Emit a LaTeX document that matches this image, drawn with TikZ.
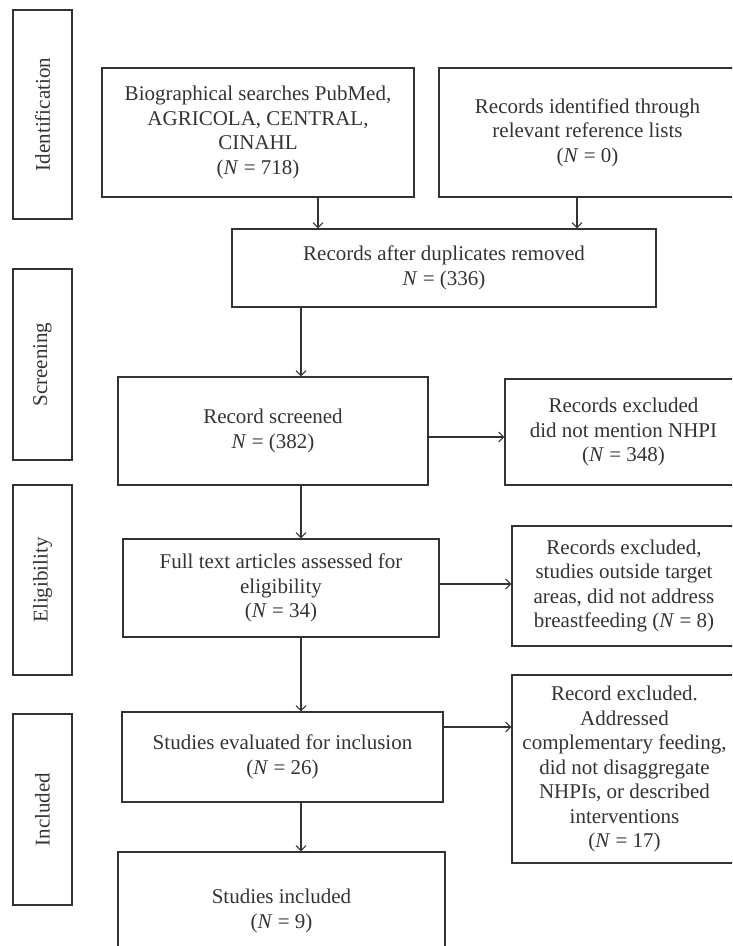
\documentclass[tikz,border=0pt]{standalone}
\usepackage{fontspec}
\setmainfont{Liberation Serif}
\usetikzlibrary{arrows.meta}

\begin{document}
\begin{tikzpicture}[x=1pt,y=-1pt,
    >={Straight Barb[length=5pt,width=10pt]},
    every node/.style={text=black!80,font=\fontsize{21}{24.5}\selectfont,align=center,inner sep=0pt},
    box/.style={draw=black!80,line width=1.1pt},
    stage/.style={draw=black!80,line width=1.1pt,rotate=90,minimum height=59pt}]
  \useasboundingbox (0,0) rectangle (732,946);
  \clip (0,0) rectangle (732,946);

  % stages on the left
  \node[stage,minimum width=209pt] (ident) at (42.5,114.5) {Identification};
  \node[stage,minimum width=191pt] (screen) at (42.5,364.5) {Screening};
  \node[stage,minimum width=190pt] (elig) at (42.5,580) {Eligibility};
  \node[stage,minimum width=191pt] (incl) at (42.5,809.5) {Included};

  % main column
  \node[box,minimum width=312pt,minimum height=129pt] (search) at (258,132.5)
    {Biographical searches PubMed,\\ AGRICOLA, CENTRAL,\\ CINAHL\\ (\textit{N} = 718)};
  \node[box,minimum width=297pt,minimum height=129pt] (refs) at (587.5,132.5)
    {Records identified through\\ relevant reference lists\\ (\textit{N} = 0)};
  \node[box,minimum width=424pt,minimum height=78pt] (dup) at (444,268)
    {Records after duplicates removed\\ \textit{N} = (336)};
  \node[box,minimum width=310pt,minimum height=108pt] (screened) at (273,431)
    {Record screened\\ \textit{N} = (382)};
  \node[box,minimum width=316pt,minimum height=98pt] (fulltext) at (281,588)
    {Full text articles assessed for\\ eligibility\\ (\textit{N} = 34)};
  \node[box,minimum width=321pt,minimum height=90pt] (evaluated) at (282.5,757)
    {Studies evaluated for inclusion\\ (\textit{N} = 26)};
  \node[box,minimum width=327pt,minimum height=118pt] (included) at (281.5,911)
    {Studies included\\ (\textit{N} = 9)};

  % exclusions on the right
  \node[box,minimum width=237pt,minimum height=106pt] (excl1) at (623.5,432)
    {Records excluded\\ did not mention NHPI\\ (\textit{N} = 348)};
  \node[box,minimum width=224pt,minimum height=120pt] (excl2) at (624,586)
    {Records excluded,\\ studies outside target\\ areas, did not address\\ breastfeeding (\textit{N} = 8)};
  \node[box,minimum width=225pt,minimum height=188pt] (excl3) at (624.5,769)
    {Record excluded.\\ Addressed\\ complementary feeding,\\ did not disaggregate\\ NHPIs, or described\\ interventions\\ (\textit{N} = 17)};

  \coordinate (spine) at (301,0);

  \draw[->,line width=1.1pt,draw=black!80] (search.south -| 318,0) -- (dup.north -| 318,0);
  \draw[->,line width=1.1pt,draw=black!80] (refs.south -| 577,0) -- (dup.north -| 577,0);
  \draw[->,line width=1.1pt,draw=black!80] (dup.south -| spine) -- (screened.north -| spine);
  \draw[->,line width=1.1pt,draw=black!80] (screened.south -| spine) -- (fulltext.north -| spine);
  \draw[->,line width=1.1pt,draw=black!80] (fulltext.south -| spine) -- (evaluated.north -| spine);
  \draw[->,line width=1.1pt,draw=black!80] (evaluated.south -| spine) -- (included.north -| spine);
  \draw[->,line width=1.1pt,draw=black!80] (screened.east |- 0,437) -- (excl1.west |- 0,437);
  \draw[->,line width=1.1pt,draw=black!80] (fulltext.east |- 0,584) -- (excl2.west |- 0,584);
  \draw[->,line width=1.1pt,draw=black!80] (evaluated.east |- 0,727) -- (excl3.west |- 0,727);
\end{tikzpicture}
\end{document}
